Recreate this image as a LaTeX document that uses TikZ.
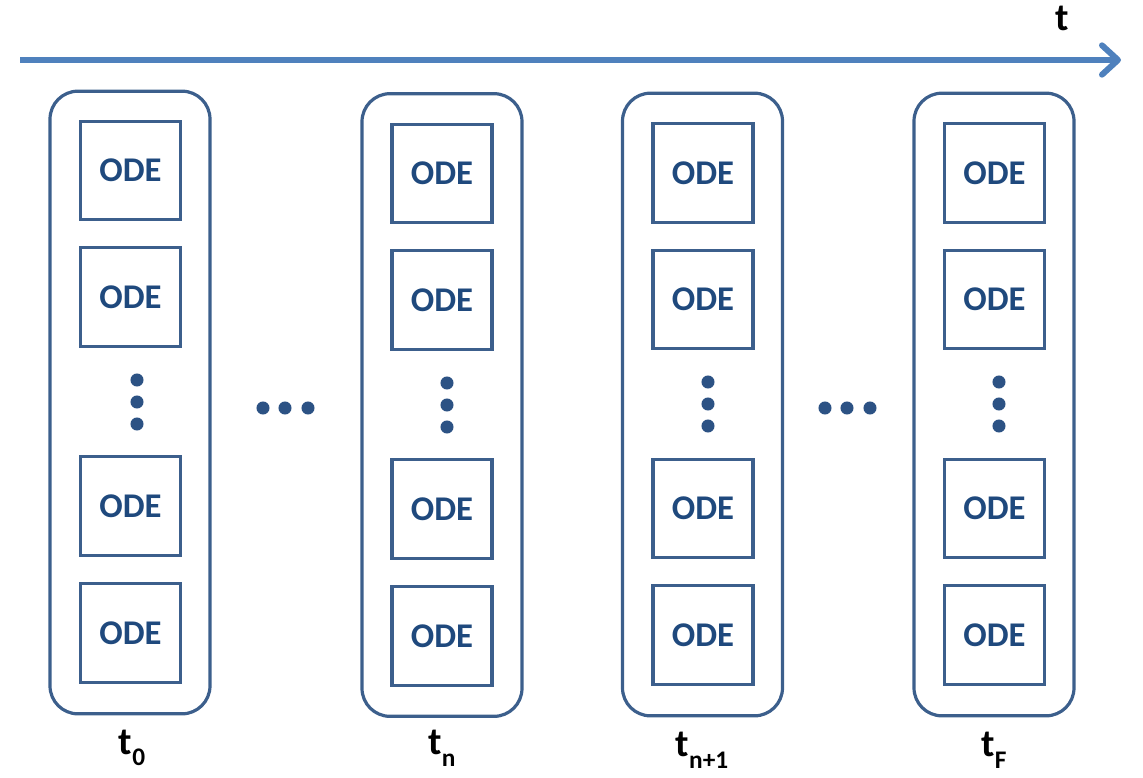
\documentclass[tikz,border=0pt]{standalone}
\usepackage{fontspec}
\setmainfont{Carlito}
\usetikzlibrary{arrows.meta}

\definecolor{boxblue}{RGB}{60,95,140}
\definecolor{odeblue}{RGB}{31,73,125}
\definecolor{dotblue}{RGB}{44,82,132}
\definecolor{axisblue}{RGB}{79,129,189}

\newcommand{\tlab}[1]{t\raisebox{-0.3em}{\fontsize{19}{19}\selectfont #1}}

\begin{document}
\begin{tikzpicture}[x=0.75pt,y=0.75pt,yscale=-1,xscale=1,
  column/.style={draw=boxblue,line width=2.4pt,rounded corners=21pt,minimum width=120pt,minimum height=467pt,inner sep=0pt},
  odebox/.style={draw=boxblue,line width=2.4pt,minimum width=75pt,minimum height=74pt,inner sep=0pt,text=odeblue,font=\fontsize{26}{26}\selectfont\bfseries},
  timelabel/.style={inner sep=0pt,font=\fontsize{29}{29}\selectfont\bfseries},
  timeline/.style={draw=axisblue,line width=4.5pt,-{Straight Barb[length=12pt,width=22pt,line cap=round,line join=round]}},
  dotfill/.style={fill=dotblue}]
\useasboundingbox (0,0) rectangle (1143,778);

%Time axis
\coordinate (tstart) at (20,60);
\coordinate (tend) at (1121,60);
\draw [timeline] (tstart) -- (tend);
% Text Node
\node [timelabel] (tlabel) at (1062,18) {t};

%Rounded Rect t0
\node [column] (col0) at (130,402.5) {};
\node [odebox] (ode01) at (130.5,170.5) {ODE};
\node [odebox] (ode02) at (130.5,297) {ODE};
\node [odebox] (ode03) at (130.5,506) {ODE};
\node [odebox] (ode04) at (130.5,633) {ODE};
\fill [dotfill] (137,380) circle (4.9pt);
\fill [dotfill] (137,402) circle (4.9pt);
\fill [dotfill] (137,424) circle (4.9pt);

%Rounded Rect tn
\node [column] (coln) at (442,405) {};
\node [odebox] (oden1) at (442,173.5) {ODE};
\node [odebox] (oden2) at (442,300) {ODE};
\node [odebox] (oden3) at (442,509) {ODE};
\node [odebox] (oden4) at (442,636) {ODE};
\fill [dotfill] (447,383) circle (4.9pt);
\fill [dotfill] (447,405) circle (4.9pt);
\fill [dotfill] (447,427) circle (4.9pt);

%Rounded Rect tn+1
\node [column] (colm) at (702.5,404.5) {};
\node [odebox] (odem1) at (703,173) {ODE};
\node [odebox] (odem2) at (703,299.5) {ODE};
\node [odebox] (odem3) at (703,508.5) {ODE};
\node [odebox] (odem4) at (703,635) {ODE};
\fill [dotfill] (708,382) circle (4.9pt);
\fill [dotfill] (708,404) circle (4.9pt);
\fill [dotfill] (708,426) circle (4.9pt);

%Rounded Rect tF
\node [column] (colf) at (994,404.5) {};
\node [odebox] (odef1) at (994.5,173) {ODE};
\node [odebox] (odef2) at (994.5,299.5) {ODE};
\node [odebox] (odef3) at (994.5,508.5) {ODE};
\node [odebox] (odef4) at (994.5,635) {ODE};
\fill [dotfill] (999,382) circle (4.9pt);
\fill [dotfill] (999,404) circle (4.9pt);
\fill [dotfill] (999,426) circle (4.9pt);

%Horizontal dots
\fill [dotfill] (263,408) circle (4.9pt);
\fill [dotfill] (285,408) circle (4.9pt);
\fill [dotfill] (308,408) circle (4.9pt);
\fill [dotfill] (825,408) circle (4.9pt);
\fill [dotfill] (847,408) circle (4.9pt);
\fill [dotfill] (870,408) circle (4.9pt);

% Text Node
\node [timelabel] (lbl0) at (132,748) {\tlab{0}};
% Text Node
\node [timelabel] (lbln) at (442,748) {\tlab{n}};
% Text Node
\node [timelabel] (lblm) at (702,750) {\tlab{n+1}};
% Text Node
\node [timelabel] (lblf) at (994,750) {\tlab{F}};

\end{tikzpicture}
\end{document}
